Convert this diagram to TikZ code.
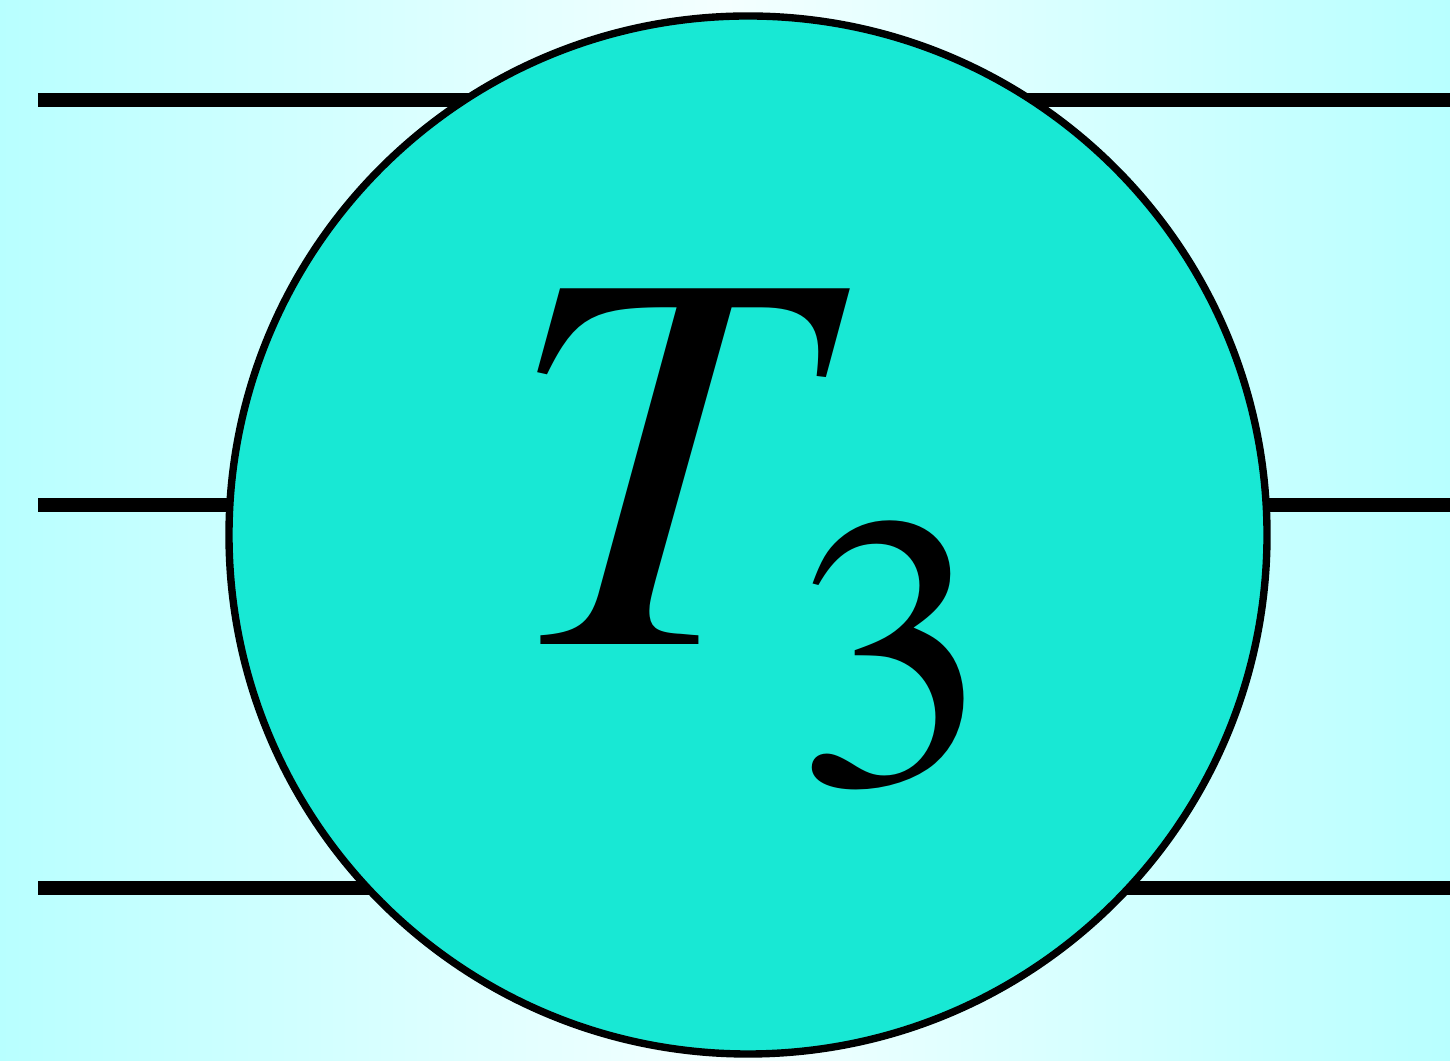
\documentclass[tikz,border=0pt]{standalone}
\usepackage[T1]{fontenc}
\usetikzlibrary{positioning}
\definecolor{bgside}{HTML}{B8FFFF}
\definecolor{bgmid}{HTML}{F4FFFF}
\definecolor{gatefill}{HTML}{18E8D4}
\begin{document}
\begin{tikzpicture}
\tikzset{wire/.style={line width=3.8pt,black},
  gate/.style={circle,draw=black,line width=2.1pt,fill=gatefill,minimum size=10.38cm,inner sep=0pt}}
\shade[left color=bgside,right color=bgside,middle color=bgmid] (0,0) rectangle (14.5,10.6);
\useasboundingbox (0,0) rectangle (14.5,10.6);
% wires behind the gate
\coordinate (w1a) at (0.38,9.6);  \coordinate (w1b) at (14.5,9.6);
\coordinate (w2a) at (0.38,5.55); \coordinate (w2b) at (14.5,5.55);
\coordinate (w3a) at (0.38,1.72); \coordinate (w3b) at (14.5,1.72);
\draw[wire] (w1a)--(w1b);
\draw[wire] (w2a)--(w2b);
\draw[wire] (w3a)--(w3b);
\node[gate] (t3) at (7.48,5.25) {};
\node[font=\fontfamily{ptm}\selectfont] (lbl) at (7.48,5.19) {\fontsize{155}{155}\selectfont\textit{T}\kern-15.5pt\raisebox{-1.4cm}{\fontsize{111}{111}\selectfont 3}};
\end{tikzpicture}
\end{document}
